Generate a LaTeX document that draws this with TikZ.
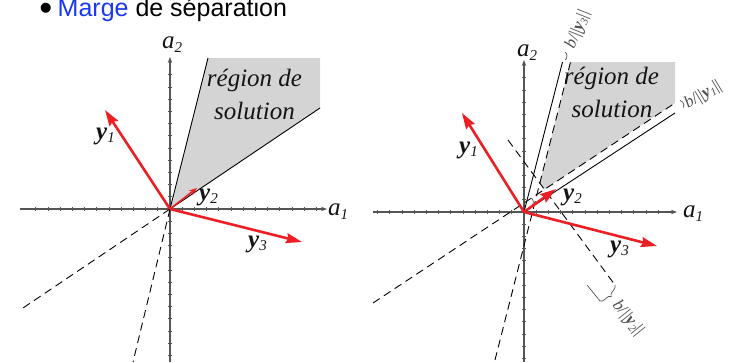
\documentclass[tikz,border=0pt]{standalone}
\usepackage{fontspec}
\setmainfont{Liberation Serif}
\newfontfamily\titlefont{Liberation Sans}
\usetikzlibrary{arrows.meta,decorations.pathreplacing}
\definecolor{vred}{RGB}{236,32,36}
\definecolor{tblue}{RGB}{25,55,250}
\definecolor{axisgray}{RGB}{85,85,85}
\definecolor{regiongray}{RGB}{212,212,212}
\definecolor{marggray}{RGB}{80,80,80}
\definecolor{labelblack}{RGB}{20,20,20}
\newcommand\vecy[1]{{\bfseries\itshape y}\raisebox{-3.5pt}{\fontsize{15}{15}\selectfont\itshape #1}}
\newcommand\avec[1]{{\itshape a}\raisebox{-4pt}{\fontsize{15}{15}\selectfont\itshape #1}}
\newcommand\mlab[1]{{\itshape b}/||{\bfseries\itshape y}\raisebox{-2.5pt}{\fontsize{11}{11}\selectfont\itshape #1}||}
\begin{document}
\begin{tikzpicture}[x=1pt,y=-1pt,
  axis/.style={draw=axisgray,line width=1.2pt,-{Stealth[length=6pt,width=4.5pt]}},
  tickmk/.style={draw=axisgray,line width=0.7pt},
  bound/.style={draw=black,line width=0.9pt},
  dashln/.style={draw=black,line width=0.9pt,dash pattern=on 8pt off 5pt},
  vec/.style={draw=vred,line width=2.6pt,-{Stealth[length=16pt,width=10pt,inset=2pt]}},
  vecsmall/.style={draw=vred,line width=1.6pt,-{Stealth[length=8pt,width=6pt]}},
  lbl/.style={inner sep=0pt,font=\fontsize{25}{25}\selectfont,text=labelblack},
  mlbl/.style={inner sep=0pt,font=\fontsize{17}{17}\selectfont,text=marggray},
  brmark/.style={draw=marggray,line width=0.7pt},
  region/.style={fill=regiongray,draw=none},
  ttl/.style={anchor=base west,inner sep=0pt,font=\titlefont\fontsize{25}{25}\selectfont}]
\useasboundingbox (0,0) rectangle (729,362);

% title
\node[ttl,font=\titlefont\fontsize{37}{37}\selectfont] (bul) at (39.2,20.3) {•};
\node[ttl] (title) at (57.5,16.5) {\textcolor{tblue}{Marge} de séparation};

% ================= LEFT PANEL =================
\coordinate (LO) at (170,209);
\coordinate (LxS) at (20,209); \coordinate (LxE) at (327,209);
\coordinate (LyS) at (170,362); \coordinate (LyE) at (170,57);
\coordinate (LA) at (208,58); \coordinate (LB) at (320,108);
\coordinate (LAd) at (133,362); \coordinate (LBd) at (20,310);
\coordinate (LR1) at (320,58);
\coordinate (Ly1) at (105,110); \coordinate (Ly2) at (197,188); \coordinate (Ly3) at (302,242);

\fill[region] (LO) -- (LA) -- (LR1) -- (LB) -- cycle;
\draw[axis] (LxS) -- (LxE);
\draw[axis] (LyS) -- (LyE);
\foreach \k in {-11,...,12} {\draw[tickmk] ({170+\k*12.2},207) -- ({170+\k*12.2},211);}
\foreach \k in {-12,...,11} {\draw[tickmk] (168,{209-\k*12.2}) -- (172,{209-\k*12.2});}
\draw[bound] (LO) -- (LA);
\draw[bound] (LO) -- (LB);
\draw[dashln] (LO) -- (LAd);
\draw[dashln] (LO) -- (LBd);
\draw[vec] (LO) -- (Ly1);
\draw[vecsmall] (LO) -- (Ly2);
\draw[vec] (LO) -- (Ly3);
\node[lbl,anchor=base west] (Lly1) at (96,139) {\vecy{1}};
\node[lbl,anchor=base west] (Lly2) at (199,200) {\vecy{2}};
\node[lbl,anchor=base west] (Lly3) at (248,247) {\vecy{3}};
\node[lbl,anchor=base west] (Lla1) at (328,215) {\avec{1}};
\node[lbl,anchor=base west] (Lla2) at (162,48) {\avec{2}};
\node[lbl,anchor=base] (Lreg1) at (254.5,86) {\itshape région de};
\node[lbl,anchor=base] (Lreg2) at (254.5,119) {\itshape solution};

% ================= RIGHT PANEL =================
\coordinate (RO) at (524,212);
\coordinate (RxS) at (373,212); \coordinate (RxE) at (677,212);
\coordinate (RyS) at (524,362); \coordinate (RyE) at (524,60);
\coordinate (RA) at (562.5,62); \coordinate (RB) at (675,113);
\coordinate (RAd1) at (495,360); \coordinate (RAd2) at (570.5,62);
\coordinate (RBd1) at (373,303); \coordinate (RBd2) at (675,103);
\coordinate (RCd1) at (508,140); \coordinate (RCd2) at (615,285);
\coordinate (RCs1) at (587,285); \coordinate (RCs2) at (600,301);
\coordinate (RP1) at (539.8,183.1); \coordinate (RP2) at (675,62); \coordinate (RP3) at (544.4,189.5);
\coordinate (Ry1) at (462,113); \coordinate (Ry2) at (556,189); \coordinate (Ry3) at (657,246);

\fill[region] (RP1) -- (RAd2) -- (RP2) -- (RBd2) -- (RP3) -- cycle;
\draw[axis] (RxS) -- (RxE);
\draw[axis] (RyS) -- (RyE);
\foreach \k in {-12,...,11} {\draw[tickmk] ({524+\k*12.2},210) -- ({524+\k*12.2},214);}
\foreach \k in {-12,...,11} {\draw[tickmk] (522,{212-\k*12.2}) -- (526,{212-\k*12.2});}
\draw[bound] (RO) -- (RA);
\draw[bound] (RO) -- (RB);
\draw[dashln] (RAd1) -- (RAd2);
\draw[dashln] (RBd1) -- (RBd2);
\draw[dashln] (RCd1) -- (RCd2);
\draw[brmark] (RCs1) -- (RCs2);
\draw[brmark,decorate,decoration={brace,amplitude=5pt,mirror}] (RCs2) -- (RCd2);
\draw[brmark] (565,52) .. controls (567.5,54) and (567.5,57) .. (565.5,60);
\draw[brmark] (680,100.5) .. controls (683,101.5) and (684.5,104) .. (683.5,107.5);
\draw[brmark] (531.5,198) .. controls (533.5,199.5) and (534,202) .. (532.5,205);
\draw[vec] (RO) -- (Ry1);
\draw[vec] (RO) -- (Ry2);
\draw[vec] (RO) -- (Ry3);
\node[lbl,anchor=base west] (Rly1) at (459,153) {\vecy{1}};
\node[lbl,anchor=base west] (Rly2) at (563,200) {\vecy{2}};
\node[lbl,anchor=base west] (Rly3) at (610,252) {\vecy{3}};
\node[lbl,anchor=base west] (Rla1) at (683,217) {\avec{1}};
\node[lbl,anchor=base west] (Rla2) at (517,56) {\avec{2}};
\node[lbl,anchor=base] (Rreg1) at (611.5,84) {\itshape région de};
\node[lbl,anchor=base] (Rreg2) at (612,117) {\itshape solution};
\node[mlbl,anchor=base west,rotate=68] (m3) at (574,50) {\mlab{3}};
\node[mlbl,anchor=base west,rotate=31] (m1) at (688,109) {\mlab{1}};
\node[mlbl,anchor=base west,rotate=-51] (m2) at (612,305) {\mlab{2}};
\end{tikzpicture}
\end{document}
